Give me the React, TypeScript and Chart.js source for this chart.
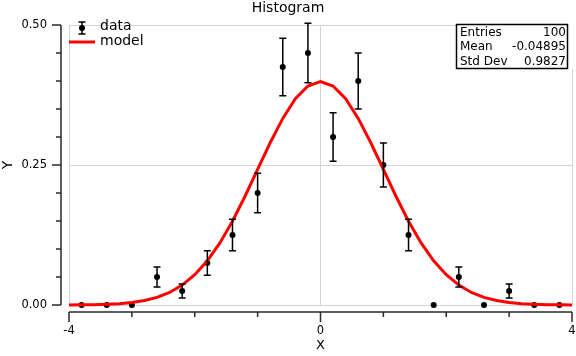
import React, { useEffect, useRef } from "react";
import { Chart, registerables } from "chart.js";

Chart.register(...registerables);

// ---- data ----
const binCenters = [-3.8, -3.4, -3.0, -2.6, -2.2, -1.8, -1.4, -1.0, -0.6, -0.2, 0.2, 0.6, 1.0, 1.4, 1.8, 2.2, 2.6, 3.0, 3.4, 3.8];
const dataValues = [0, 0, 0, 0.05, 0.025, 0.075, 0.125, 0.2, 0.425, 0.45, 0.3, 0.4, 0.25, 0.125, 0, 0.05, 0, 0.025, 0, 0];
const dataErrors = [0, 0, 0, 0.0177, 0.0125, 0.0217, 0.028, 0.0354, 0.0515, 0.053, 0.0433, 0.05, 0.0395, 0.028, 0, 0.0177, 0, 0.0125, 0, 0];

const modelX = [-4.0, -3.8, -3.6, -3.4, -3.2, -3.0, -2.8, -2.6, -2.4, -2.2, -2.0, -1.8, -1.6, -1.4, -1.2, -1.0, -0.8, -0.6, -0.4, -0.2, 0.0,
  0.2, 0.4, 0.6, 0.8, 1.0, 1.2, 1.4, 1.6, 1.8, 2.0, 2.2, 2.4, 2.6, 2.8, 3.0, 3.2, 3.4, 3.6, 3.8, 4.0];
const modelY = [0.0001, 0.0003, 0.0006, 0.0012, 0.0024, 0.0044, 0.0079, 0.0136, 0.0224, 0.0355, 0.054, 0.079, 0.1109, 0.1497, 0.1942, 0.242, 0.2897, 0.3332, 0.3683, 0.391, 0.3989,
  0.391, 0.3683, 0.3332, 0.2897, 0.242, 0.1942, 0.1497, 0.1109, 0.079, 0.054, 0.0355, 0.0224, 0.0136, 0.0079, 0.0044, 0.0024, 0.0012, 0.0006, 0.0003, 0.0001];

const xMajorTicks = [-4, 0, 4];
const xMinorTicks = [-3, -2, -1, 1, 2, 3];
const yMajorTicks = [0, 0.25, 0.5];
const yMinorTicks = [0.05, 0.1, 0.15, 0.2, 0.3, 0.35, 0.4, 0.45];

const statLabels = ["Entries", "Mean", "Std Dev"];
const statValues = ["100", "-0.04895", "0.9827"];

const titleText = "Histogram";
const xTitle = "X";
const yTitle = "Y";
const seriesNames = ["data", "model"];

const FONT = '"DejaVu Sans", sans-serif';
const AXIS_COLOR = "#2a2a2a";

const decorPlugin = {
  id: "decor",
  afterDatasetsDraw(chart: any) {
    const ctx = chart.ctx as CanvasRenderingContext2D;
    const xs = chart.scales.x;
    const ys = chart.scales.y;
    const area = chart.chartArea;

    // error bars
    ctx.save();
    ctx.strokeStyle = "#000";
    ctx.lineWidth = 1.5;
    binCenters.forEach((x, i) => {
      const e = dataErrors[i];
      if (!e) return;
      const px = xs.getPixelForValue(x);
      const y1 = ys.getPixelForValue(dataValues[i] + e);
      const y2 = ys.getPixelForValue(dataValues[i] - e);
      ctx.beginPath();
      ctx.moveTo(px, y1);
      ctx.lineTo(px, y2);
      ctx.moveTo(px - 3.5, y1);
      ctx.lineTo(px + 3.5, y1);
      ctx.moveTo(px - 3.5, y2);
      ctx.lineTo(px + 3.5, y2);
      ctx.stroke();
    });
    ctx.restore();

    // offset axes
    ctx.save();
    ctx.strokeStyle = AXIS_COLOR;
    ctx.lineWidth = 1.5;
    const axX = area.left - 8;
    ctx.beginPath();
    ctx.moveTo(axX, ys.getPixelForValue(0));
    ctx.lineTo(axX, ys.getPixelForValue(0.5));
    yMajorTicks.forEach((v) => {
      const p = ys.getPixelForValue(v);
      ctx.moveTo(axX - 9, p);
      ctx.lineTo(axX, p);
    });
    yMinorTicks.forEach((v) => {
      const p = ys.getPixelForValue(v);
      ctx.moveTo(axX - 5, p);
      ctx.lineTo(axX, p);
    });
    const axY = area.bottom + 7;
    ctx.moveTo(xs.getPixelForValue(-4), axY);
    ctx.lineTo(xs.getPixelForValue(4), axY);
    xMajorTicks.forEach((v) => {
      const p = xs.getPixelForValue(v);
      ctx.moveTo(p, axY);
      ctx.lineTo(p, axY + 10);
    });
    xMinorTicks.forEach((v) => {
      const p = xs.getPixelForValue(v);
      ctx.moveTo(p, axY);
      ctx.lineTo(p, axY + 5);
    });
    ctx.stroke();
    ctx.restore();

    // axis titles & main title
    ctx.save();
    ctx.fillStyle = "#000";
    ctx.textBaseline = "middle";
    ctx.textAlign = "center";
    ctx.font = `14px ${FONT}`;
    ctx.fillText(titleText, chart.width / 2, 8);
    ctx.font = `13px ${FONT}`;
    ctx.fillText(xTitle, (area.left + area.right) / 2, 346);
    ctx.translate(8, (area.top + area.bottom) / 2);
    ctx.rotate(-Math.PI / 2);
    ctx.font = `14px ${FONT}`;
    ctx.fillText(yTitle, 0, 0);
    ctx.restore();

    // legend
    ctx.save();
    const lx = 82;
    ctx.strokeStyle = "#000";
    ctx.lineWidth = 1.5;
    ctx.beginPath();
    ctx.moveTo(lx, 22);
    ctx.lineTo(lx, 34);
    ctx.moveTo(lx - 3.5, 22);
    ctx.lineTo(lx + 3.5, 22);
    ctx.moveTo(lx - 3.5, 34);
    ctx.lineTo(lx + 3.5, 34);
    ctx.stroke();
    ctx.fillStyle = "#000";
    ctx.beginPath();
    ctx.arc(lx, 28, 3, 0, Math.PI * 2);
    ctx.fill();
    ctx.strokeStyle = "#ff0000";
    ctx.lineWidth = 3;
    ctx.beginPath();
    ctx.moveTo(69, 42);
    ctx.lineTo(95, 42);
    ctx.stroke();
    ctx.font = `14px ${FONT}`;
    ctx.textAlign = "left";
    ctx.textBaseline = "middle";
    ctx.fillText(seriesNames[0], 100, 26);
    ctx.fillText(seriesNames[1], 100, 41);
    ctx.restore();

    // stats box
    ctx.save();
    ctx.fillStyle = "#fff";
    ctx.fillRect(456, 0, 120, 69);
    ctx.strokeStyle = "#000";
    ctx.lineWidth = 1.5;
    ctx.strokeRect(456.5, 24.5, 111, 44);
    ctx.fillStyle = "#000";
    ctx.font = `12px ${FONT}`;
    ctx.textBaseline = "middle";
    statLabels.forEach((lab, i) => {
      const y = 32.5 + i * 14.5;
      ctx.textAlign = "left";
      ctx.fillText(lab, 460, y);
      ctx.textAlign = "right";
      ctx.fillText(statValues[i], 566, y);
    });
    ctx.restore();
  },
};

export default function App() {
  const canvasRef = useRef<HTMLCanvasElement | null>(null);

  useEffect(() => {
    document.body.style.margin = "0";
    const canvas = canvasRef.current;
    if (!canvas) return;
    const chart = new Chart(canvas, {
      type: "scatter",
      data: {
        datasets: [
          {
            label: seriesNames[1],
            data: modelX.map((x, i) => ({ x, y: modelY[i] })),
            showLine: true,
            borderColor: "#ff0000",
            backgroundColor: "#ff0000",
            borderWidth: 3,
            pointRadius: 0,
            tension: 0,
            clip: false,
          } as any,
          {
            label: seriesNames[0],
            data: binCenters.map((x, i) => ({ x, y: dataValues[i] })),
            showLine: false,
            pointRadius: 3,
            pointBackgroundColor: "#000",
            pointBorderWidth: 0,
            pointBorderColor: "#000",
            clip: false,
          } as any,
        ],
      },
      options: {
        animation: false,
        responsive: false,
        devicePixelRatio: 1,
        layout: { padding: { top: 25, right: 4, left: 0, bottom: 0 } },
        plugins: {
          legend: { display: false },
          title: { display: false },
          tooltip: { enabled: false },
        },
        scales: {
          x: {
            type: "linear",
            min: -4,
            max: 4,
            afterFit: (s: any) => {
              s.height = 51;
              s.paddingLeft = 0;
              s.paddingRight = 0;
            },
            afterBuildTicks: (s: any) => {
              s.ticks = xMajorTicks.map((v) => ({ value: v }));
            },
            ticks: {
              padding: 19,
              color: "#000",
              font: { family: FONT, size: 11.5 },
              callback: (v: any) => String(v),
              maxRotation: 0,
            },
            grid: { color: "#d3d3d3", lineWidth: 1, drawTicks: false },
            border: { display: false },
          },
          y: {
            type: "linear",
            min: 0,
            max: 0.5,
            afterFit: (s: any) => {
              s.width = 69;
              s.paddingTop = 0;
              s.paddingBottom = 0;
            },
            afterBuildTicks: (s: any) => {
              s.ticks = yMajorTicks.map((v) => ({ value: v }));
            },
            ticks: {
              padding: 22,
              color: "#000",
              font: { family: FONT, size: 11.5 },
              callback: (v: any) => Number(v).toFixed(2),
            },
            grid: { color: "#d3d3d3", lineWidth: 1, drawTicks: false },
            border: { display: false },
          },
        },
      },
      plugins: [decorPlugin],
    });
    return () => chart.destroy();
  }, []);

  return (
    <div style={{ width: 576, height: 356 }}>
      <canvas ref={canvasRef} width={576} height={356} />
    </div>
  );
}
